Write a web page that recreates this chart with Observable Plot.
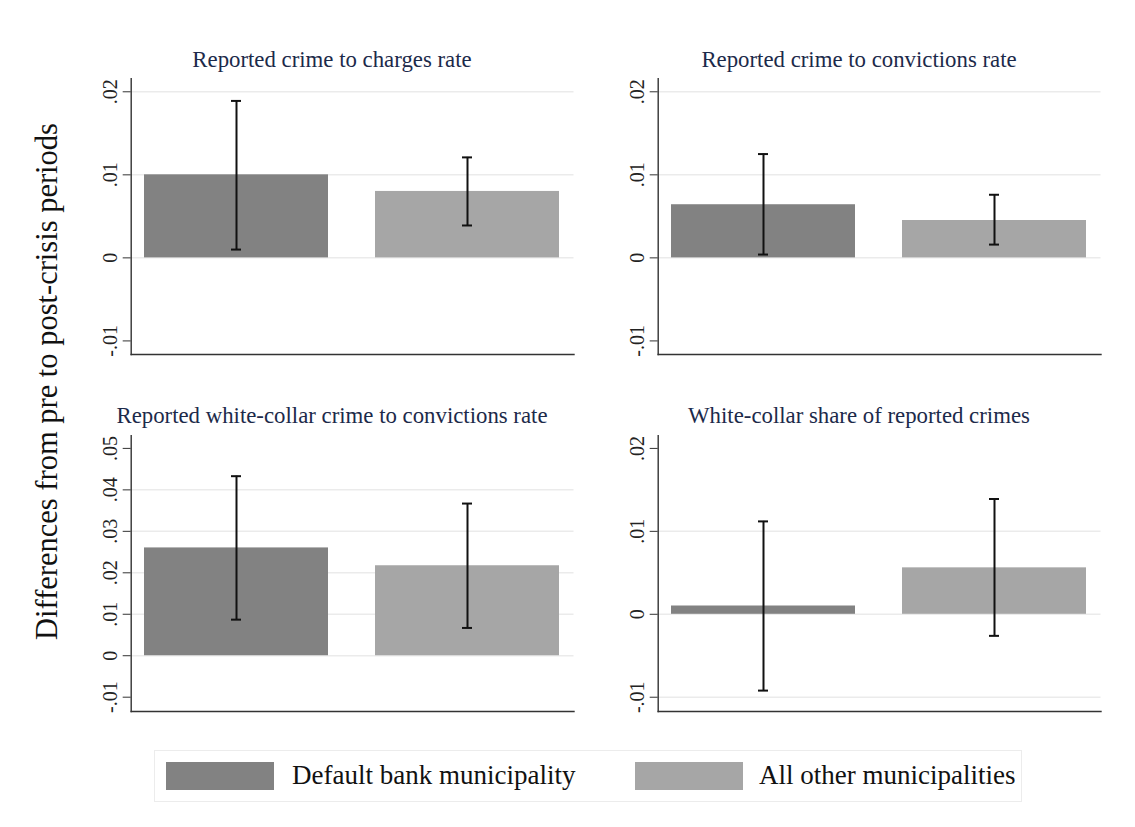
<!DOCTYPE html>
<html>
<head>
<meta charset="utf-8">
<script src="https://cdn.jsdelivr.net/npm/d3@7"></script>
<script src="https://cdn.jsdelivr.net/npm/@observablehq/plot@0.6"></script>
<style>
  html, body { margin: 0; padding: 0; background: #fff; }
  #root { position: relative; width: 1135px; height: 827px; font-family: "Liberation Serif", "DejaVu Serif", serif; }
  .panel { position: absolute; }
  .panel text { font-size: 20px !important; font-family: "Liberation Serif", "DejaVu Serif", serif; }
  .ptitle { position: absolute; width: 560px; text-align: center; font-size: 22.8px; color: #1c2a4a; white-space: nowrap; }
  .ytitle { position: absolute; white-space: nowrap; font-size: 30.5px; color: #111; transform-origin: center center; }
  .legend { position: absolute; box-sizing: border-box; border: 1.5px solid #ececec; }
  .sw { position: absolute; }
  .ltext { position: absolute; font-size: 27px; color: #111; white-space: nowrap; }
</style>
</head>
<body>
<div id="root"></div>
<script>
// ---------------- data ----------------
const categories = ["Default bank municipality", "All other municipalities"];
const panelTitles = [
  "Reported crime to charges rate",
  "Reported crime to convictions rate",
  "Reported white-collar crime to convictions rate",
  "White-collar share of reported crimes"
];
const estimates = [
  [0.0100, 0.0080],
  [0.0064, 0.0045],
  [0.0260, 0.0217],
  [0.0010, 0.0056]
];
const lowerCI = [
  [0.0010, 0.0039],
  [0.0004, 0.0016],
  [0.0087, 0.0067],
  [-0.0092, -0.0026]
];
const upperCI = [
  [0.0189, 0.0121],
  [0.0125, 0.0076],
  [0.0433, 0.0367],
  [0.0112, 0.0139]
];
const yTicks = [
  [-0.01, 0, 0.01, 0.02],
  [-0.01, 0, 0.01, 0.02],
  [-0.01, 0, 0.01, 0.02, 0.03, 0.04, 0.05],
  [-0.01, 0, 0.01, 0.02]
];
const gridTicks = [
  [0, 0.01, 0.02],
  [0, 0.01, 0.02],
  [0, 0.01, 0.02, 0.03, 0.04],
  [-0.01, 0, 0.01]
];
const yTitle = "Differences from pre to post-crisis periods";
const barColors = ["#828282", "#a6a6a6"];

// ---------------- layout ----------------
const layout = [
  {left: 80,  top: 70,    domain: [-0.011636, 0.021564], titleX: 332, titleY: 47},
  {left: 607, top: 70,    domain: [-0.011636, 0.021564], titleX: 859, titleY: 47},
  {left: 80,  top: 427.4, domain: [-0.01345, 0.05304],   titleX: 332, titleY: 403},
  {left: 607, top: 427.4, domain: [-0.01172, 0.02152],   titleX: 859, titleY: 403}
];

const fmt = d => {
  if (d === 0) return "0";
  const s = Math.abs(d).toFixed(2).replace(/0+$/, "").replace(/^0/, "");
  return (d < 0 ? "-" : "") + s;
};

const root = document.getElementById("root");

panelTitles.forEach((title, i) => {
  const L = layout[i];
  const rows = categories.map((c, j) => ({
    cat: c, est: estimates[i][j], lo: lowerCI[i][j], hi: upperCI[i][j], color: barColors[j]
  }));
  const chart = Plot.plot({
    width: 500,
    height: 290,
    marginLeft: 50.7,
    marginRight: 6.5,
    marginTop: 8.3,
    marginBottom: 6,
    style: {fontFamily: "Liberation Serif, DejaVu Serif, serif", fontSize: "20px", color: "#222", background: "transparent", overflow: "visible"},
    x: {domain: categories, paddingInner: 0.202, paddingOuter: 0.056, axis: null},
    y: {domain: L.domain},
    marks: [
      Plot.ruleY(gridTicks[i], {stroke: "#ebebeb", strokeWidth: 1.5}),
      Plot.barY(rows, {x: "cat", y: "est", fill: "color"}),
      Plot.ruleX(rows, {x: "cat", y1: "lo", y2: "hi", stroke: "#111", strokeWidth: 2}),
      Plot.tickY(rows, {x: "cat", y: "lo", stroke: "#111", strokeWidth: 2, insetLeft: 87, insetRight: 87}),
      Plot.tickY(rows, {x: "cat", y: "hi", stroke: "#111", strokeWidth: 2, insetLeft: 87, insetRight: 87}),
      Plot.axisY({ticks: yTicks[i], tickFormat: fmt, tickSize: 8, tickPadding: 6, tickRotate: -90, label: null, stroke: "#333", fill: "#222", fontSize: 20}),
      Plot.frame({anchor: "left", stroke: "#333", strokeWidth: 1.4}),
      Plot.frame({anchor: "bottom", stroke: "#333", strokeWidth: 1.4})
    ]
  });
  chart.classList.add("panel");
  chart.style.left = L.left + "px";
  chart.style.top = L.top + "px";
  root.appendChild(chart);

  const t = document.createElement("div");
  t.className = "ptitle";
  t.textContent = title;
  t.style.left = (L.titleX - 280) + "px";
  t.style.top = L.titleY + "px";
  root.appendChild(t);
});

// y-axis title
const yt = document.createElement("div");
yt.className = "ytitle";
yt.textContent = yTitle;
root.appendChild(yt);
const w = yt.offsetWidth, h = yt.offsetHeight;
yt.style.left = (47 - w / 2) + "px";
yt.style.top = (381 - h / 2) + "px";
yt.style.transform = "rotate(-90deg)";

// legend
const lg = document.createElement("div");
lg.className = "legend";
lg.style.left = "154px"; lg.style.top = "750px"; lg.style.width = "868px"; lg.style.height = "52px";
root.appendChild(lg);
const swatchX = [166, 635];
const textX = [292, 759];
categories.forEach((c, j) => {
  const s = document.createElement("div");
  s.className = "sw";
  s.style.left = swatchX[j] + "px"; s.style.top = "762px"; s.style.width = "108px"; s.style.height = "28px";
  s.style.background = barColors[j];
  root.appendChild(s);
  const tx = document.createElement("div");
  tx.className = "ltext";
  tx.textContent = c;
  tx.style.left = textX[j] + "px"; tx.style.top = "760px";
  root.appendChild(tx);
});
</script>
</body>
</html>
